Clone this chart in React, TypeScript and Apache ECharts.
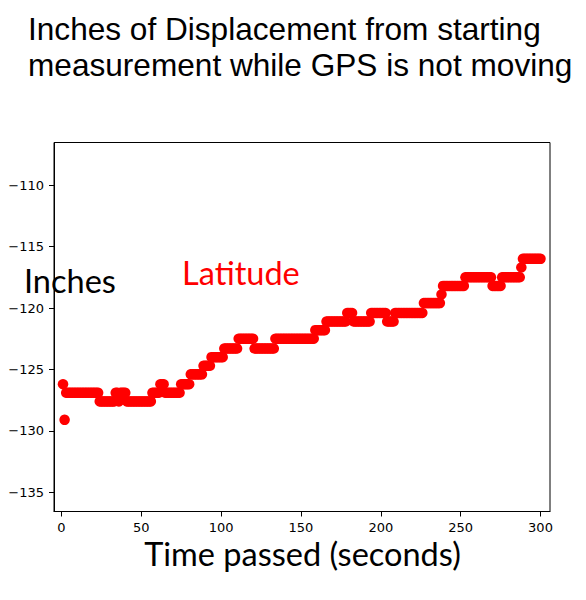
import React, { useEffect, useRef } from "react";
import * as echarts from "echarts";

// Run-length readings of the latitude trace: [start second, end second, inches]
const segStart = [1, 2, 3, 24, 34, 36, 37, 41, 57, 62, 65, 75, 81, 89, 94, 102, 111, 121, 134, 159, 166, 179, 183, 194, 204, 209, 227, 238, 239, 253, 270, 276, 288, 289];
const segEnd = [1, 2, 23, 33, 35, 36, 40, 56, 61, 64, 74, 80, 88, 93, 101, 110, 120, 133, 158, 165, 178, 182, 193, 203, 208, 226, 237, 238, 252, 269, 275, 287, 288, 300];
const segLevel = [-126.2, -129.1, -126.9, -127.6, -126.9, -127.6, -126.9, -127.6, -126.9, -126.2, -126.9, -126.2, -125.4, -124.7, -124.0, -123.3, -122.5, -123.3, -122.5, -121.8, -121.1, -120.4, -121.1, -120.4, -121.1, -120.4, -119.6, -118.9, -118.2, -117.5, -118.2, -117.5, -116.7, -116.0];

const xTicks = [0, 50, 100, 150, 200, 250, 300];
const yTicks = [-135, -130, -125, -120, -115, -110];

const titleLines = ["Inches of Displacement from starting", "measurement while GPS is not moving"];
const xAxisTitle = "Time passed (seconds)";
const yAxisTitle = "Inches";
const seriesName = "Latitude";

const HUMAN_FONT = "Lato, 'Open Sans', 'Noto Sans', sans-serif";
const TITLE_FONT = "'Liberation Sans', Arial, sans-serif";
const TICK_FONT = "'DejaVu Sans', sans-serif";
const BIG = 32.5;

function buildPoints(): number[][] {
  const pts: number[][] = [];
  segStart.forEach((s, i) => {
    for (let t = s; t <= segEnd[i]; t++) pts.push([t, segLevel[i]]);
  });
  return pts;
}

const fmt = (v: number) => String(v).replace("-", "\u2212");

export default function App() {
  const ref = useRef<HTMLDivElement>(null);
  useEffect(() => {
    if (!ref.current) return;
    const chart = echarts.init(ref.current, undefined, { renderer: "svg" });
    const txt = (
      text: string,
      x: number,
      y: number,
      size: number,
      fill: string,
      align = "left",
      lh = size,
      family = HUMAN_FONT
    ) => ({
      type: "text",
      x,
      y,
      style: {
        text,
        fill,
        fontSize: size,
        fontFamily: family,
        lineHeight: lh,
        align,
        verticalAlign: "middle",
        textAlign: align,
        textVerticalAlign: "middle",
      },
    });
    chart.setOption({
      animation: false,
      backgroundColor: "#ffffff",
      grid: {
        left: 54,
        top: 142.5,
        right: 36,
        bottom: 88.5,
        show: true,
        borderColor: "#000",
        borderWidth: 1,
        backgroundColor: "transparent",
      },
      xAxis: {
        type: "value",
        min: -4.64,
        max: 305.95,
        splitLine: { show: false },
        axisLine: { show: true, onZero: false, lineStyle: { color: "#000", width: 1 } },
        axisTick: { show: true, length: 5, lineStyle: { color: "#000" }, customValues: xTicks },
        axisLabel: {
          customValues: xTicks,
          color: "#000",
          fontSize: 13,
          fontFamily: TICK_FONT,
          margin: 9,
          formatter: (v: number) => fmt(v),
        },
      },
      yAxis: {
        type: "value",
        min: -136.56,
        max: -106.53,
        splitLine: { show: false },
        axisLine: { show: true, onZero: false, lineStyle: { color: "#000", width: 1 } },
        axisTick: { show: true, length: 5, lineStyle: { color: "#000" }, customValues: yTicks },
        axisLabel: {
          customValues: yTicks,
          color: "#000",
          fontSize: 13,
          fontFamily: TICK_FONT,
          margin: 10,
          formatter: (v: number) => fmt(v),
        },
      },
      series: [
        {
          name: seriesName,
          type: "scatter",
          data: buildPoints(),
          symbol: "circle",
          symbolSize: 10.5,
          itemStyle: { color: "#ff0000", opacity: 1 },
          emphasis: { disabled: true },
        },
      ],
      graphic: [
        txt(titleLines.join("\n"), 28, 47, 31.6, "#000", "left", 36, TITLE_FONT),
        txt(yAxisTitle, 24, 280, BIG, "#000"),
        txt(seriesName, 182, 272.5, BIG, "#ff0000"),
        txt(xAxisTitle, 302.5, 553, BIG, "#000", "center"),
      ],
    });
    return () => chart.dispose();
  }, []);
  return <div ref={ref} style={{ position: "absolute", left: 0, top: 0, width: 586, height: 600 }} />;
}
